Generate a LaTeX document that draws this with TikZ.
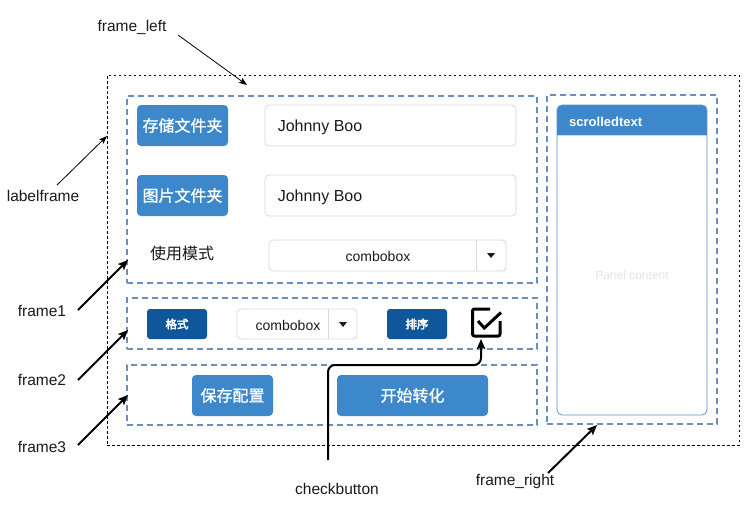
\documentclass[tikz,border=0pt]{standalone}
\usepackage{fontspec}
\setmainfont{Liberation Sans}
\newfontfamily\cjk{Noto Sans CJK SC}
\newfontfamily\cjkm[FakeBold=1]{Noto Sans CJK SC}
\newfontfamily\cjkb[FakeBold=3.5]{Noto Sans CJK SC}
\usetikzlibrary{arrows.meta}
\definecolor{frameblue}{HTML}{6C8EBF}
\definecolor{btnlight}{HTML}{3D87CB}
\definecolor{btndark}{HTML}{10569A}
\definecolor{boxgray}{HTML}{DADADA}
\definecolor{panelborder}{HTML}{5A93C6}
\definecolor{ghost}{HTML}{E4E4E4}
\definecolor{ink}{HTML}{1A1A1A}
\begin{document}
\begin{tikzpicture}[x=1pt,y=-1pt,
  frame/.style={draw=frameblue, line width=1.6pt, dash pattern=on 6pt off 4pt, inner sep=0pt, outer sep=0pt},
  outerframe/.style={draw=black, line width=0.9pt, dash pattern=on 2.5pt off 2.5pt, inner sep=0pt, outer sep=0pt},
  lightbtn/.style={fill=btnlight, rounded corners=4pt, text=white, font=\cjkm\fontsize{16}{16}\selectfont, inner sep=0pt},
  darkbtn/.style={fill=btndark, rounded corners=3pt, text=white, font=\cjkb\fontsize{11.5}{11.5}\selectfont, inner sep=0pt},
  textbox/.style={draw=boxgray, line width=0.8pt, rounded corners=4pt, fill=white, inner sep=0pt},
  boxtext/.style={anchor=west, font=\fontsize{16}{16}\selectfont, text=ink, inner sep=0pt},
  combotext/.style={font=\fontsize{14}{14}\selectfont, text=ink, inner sep=0pt},
  lbl/.style={font=\fontsize{15.5}{16}\selectfont, text=ink, inner sep=0pt},
  thinarrow/.style={draw=black, line width=0.8pt, -{Stealth[length=8pt,width=6pt,inset=1.5pt]}},
  thickarrow/.style={draw=black, line width=2pt, -{Stealth[length=10pt,width=8.5pt,inset=2pt]}}
]
\useasboundingbox[fill=white] (0,0) rectangle (744,515);

% outer frame_left
\node[outerframe, minimum width=632pt, minimum height=370pt] (outer) at (423,260) {};

% frames
\node[frame, minimum width=410pt, minimum height=187pt] (frame1) at (332,189.5) {};
\node[frame, minimum width=410pt, minimum height=51pt] (frame2) at (332,323.5) {};
\node[frame, minimum width=410pt, minimum height=60pt] (frame3) at (332,395) {};
\node[frame, minimum width=170pt, minimum height=329pt] (frameR) at (632,259.5) {};

% frame1 content
\node[lightbtn, minimum width=91pt, minimum height=41pt] (btn1) at (182.5,125.5) {存储文件夹};
\node[lightbtn, minimum width=91pt, minimum height=41pt] (btn2) at (182.5,195.5) {图片文件夹};
\node[textbox, minimum width=251pt, minimum height=41pt] (tb1) at (390.5,125.5) {};
\node[boxtext] (tb1t) at ([xshift=13pt,yshift=-1.5pt]tb1.west) {Johnny Boo};
\node[textbox, minimum width=251pt, minimum height=41pt] (tb2) at (390.5,195.5) {};
\node[boxtext] (tb2t) at ([xshift=13pt,yshift=-1.5pt]tb2.west) {Johnny Boo};
\node[font=\cjk\fontsize{16}{16}\selectfont, text=ink, inner sep=0pt] (mode) at (182,253) {使用模式};
\node[textbox, minimum width=237pt, minimum height=31pt] (combo1) at (387.5,255.5) {};
\draw[boxgray, line width=0.8pt] ([xshift=-30pt]combo1.north east) -- ([xshift=-30pt]combo1.south east);
\node[combotext] (combo1t) at (378,256.5) {combobox};
\fill[ink] (487,253) -- (495,253) -- (491,258) -- cycle;

% frame2 content
\node[darkbtn, minimum width=60pt, minimum height=30pt] (fmt) at (177,324) {格式};
\node[textbox, minimum width=120pt, minimum height=30pt] (combo2) at (297,324) {};
\draw[boxgray, line width=0.8pt] ([xshift=-29pt]combo2.north east) -- ([xshift=-29pt]combo2.south east);
\node[combotext] (combo2t) at (288,325) {combobox};
\fill[ink] (339,322) -- (347,322) -- (343,327) -- cycle;
\node[darkbtn, minimum width=60pt, minimum height=30pt] (sort) at (417,324) {排序};
\node[inner sep=0pt, minimum width=27.5pt, minimum height=27pt] (chk) at (486.25,322.5) {};
\draw[black, line width=3pt, rounded corners=2pt] (490,309) -- (472.5,309) -- (472.5,336) -- (500,336) -- (500,321);
\draw[black, line width=3pt, line join=miter] (478,321) -- (484.3,328) -- (501,312.5);

% frame3 content
\node[lightbtn, minimum width=81pt, minimum height=41pt] (save) at (232.5,395.5) {保存配置};
\node[lightbtn, minimum width=151pt, minimum height=41pt] (start) at (412.5,395.5) {开始转化};

% scrolledtext panel
\begin{scope}
  \clip[rounded corners=5pt] (557,105) rectangle (707,415);
  \fill[btnlight] (557,105) rectangle (707,135);
\end{scope}
\draw[white!70!btnlight, line width=0.8pt] (557,135) -- (707,135);
\node[draw=panelborder, line width=0.8pt, rounded corners=5pt, minimum width=150pt, minimum height=310pt, inner sep=0pt] (panel) at (632,260) {};
\node[anchor=west, font=\bfseries\fontsize{13}{13}\selectfont, text=white, inner sep=0pt] (sthead) at (569,121.5) {scrolledtext};
\node[font=\fontsize{12}{12}\selectfont, text=ghost, inner sep=0pt] (pcont) at (632,275.5) {Panel content};

% labels
\node[lbl] (Lfl) at (132,27) {frame\_left};
\node[lbl] (Llf) at (43,196) {labelframe};
\node[lbl] (Lf1) at (42,311) {frame1};
\node[lbl] (Lf2) at (42,380) {frame2};
\node[lbl] (Lf3) at (42,447) {frame3};
\node[lbl] (Lcb) at (337,488.5) {checkbutton};
\node[lbl] (Lfr) at (515,481) {frame\_right};

% arrow ends
\coordinate (flS) at (178,35);  \coordinate (flT) at (247,85);
\coordinate (lfS) at (57,185);  \coordinate (lfT) at (107,136);
\coordinate (f1S) at (78,310);  \coordinate (f1T) at (128,260);
\coordinate (f2S) at (78,380);  \coordinate (f2T) at (128,330);
\coordinate (f3S) at (78,445);  \coordinate (f3T) at (128,395);
\coordinate (cbS) at (328,460); \coordinate (cbM) at (481,365); \coordinate (cbT) at (481,339);
\coordinate (frS) at (548,473); \coordinate (frT) at (597,425);

\draw[thinarrow] (flS) -- (flT);
\draw[thinarrow] (lfS) -- (lfT);
\draw[thickarrow] (f1S) -- (f1T);
\draw[thickarrow] (f2S) -- (f2T);
\draw[thickarrow] (f3S) -- (f3T);
\draw[thickarrow, rounded corners=7pt] (cbS) |- (cbM) -- (cbT);
\draw[thickarrow] (frS) -- (frT);
\end{tikzpicture}
\end{document}
